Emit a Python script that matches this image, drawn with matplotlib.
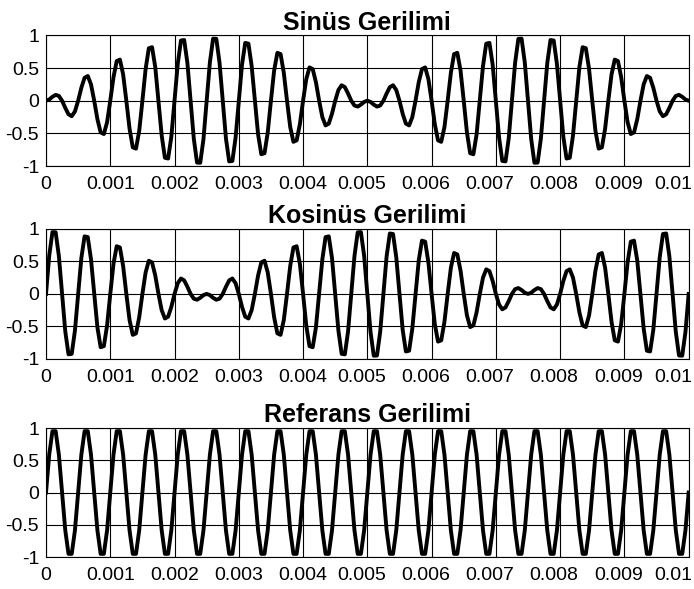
import numpy as np
import matplotlib.pyplot as plt
from matplotlib.transforms import ScaledTranslation

# signal parameters
f_carrier = 2000      # Hz, 20 cycles in 0.01 s
f_mod = 100           # Hz, envelope zero at 0.005 s
amplitude = 1.0
t_step = 5e-5
t_end = 0.01

titles = ['Sinüs Gerilimi', 'Kosinüs Gerilimi', 'Referans Gerilimi']
xticks = [0, 0.001, 0.002, 0.003, 0.004, 0.005, 0.006, 0.007, 0.008, 0.009, 0.01]
xticklabels = ['0', '0.001', '0.002', '0.003', '0.004', '0.005',
               '0.006', '0.007', '0.008', '0.009', '0.01']
yticks = [-1, -0.5, 0, 0.5, 1]
yticklabels = ['-1', '-0.5', '0', '0.5', '1']

t = np.arange(0, t_end + t_step / 2, t_step)
carrier = amplitude * np.sin(2 * np.pi * f_carrier * t)
signals = [
    np.sin(2 * np.pi * f_mod * t) * carrier,
    np.cos(2 * np.pi * f_mod * t) * carrier,
    carrier,
]

fig = plt.figure(figsize=(6.94, 5.89), dpi=100)
plt.rcParams['font.family'] = ['Liberation Sans', 'DejaVu Sans']

# [left, bottom, width, height] in figure fraction
boxes = [
    [0.0663, 0.718, 0.926, 0.222],
    [0.0663, 0.3905, 0.926, 0.221],
    [0.0663, 0.0543, 0.926, 0.219],
]

for box, title, y in zip(boxes, titles, signals):
    ax = fig.add_axes(box)
    ax.plot(t, y, color='black', linewidth=2.8, solid_joinstyle='round')
    ax.set_xlim(0, 0.01)
    ax.set_ylim(-1, 1)
    ax.set_xticks(xticks)
    ax.set_xticklabels(xticklabels, fontsize=14)
    ax.set_yticks(yticks)
    ax.set_yticklabels(yticklabels, fontsize=14)
    ax.tick_params(axis='x', length=0, pad=7)
    ax.tick_params(axis='y', length=0, pad=5)
    # labels on the right half sit a bit to the left in the original
    for i, lab in enumerate(ax.get_xticklabels()):
        if 5 <= i <= 9:
            lab.set_transform(lab.get_transform() +
                              ScaledTranslation(-6 / 100, 0, fig.dpi_scale_trans))
    last = ax.get_xticklabels()[-1]
    last.set_ha('right')
    last.set_transform(last.get_transform() +
                       ScaledTranslation(4 / 100, 0, fig.dpi_scale_trans))
    ax.grid(True, color='black', linewidth=0.8)
    for s in ax.spines.values():
        s.set_linewidth(0.8)
    ax.set_title(title, fontsize=18, fontweight='bold', pad=4)

fig.savefig('out.png', dpi=100)
